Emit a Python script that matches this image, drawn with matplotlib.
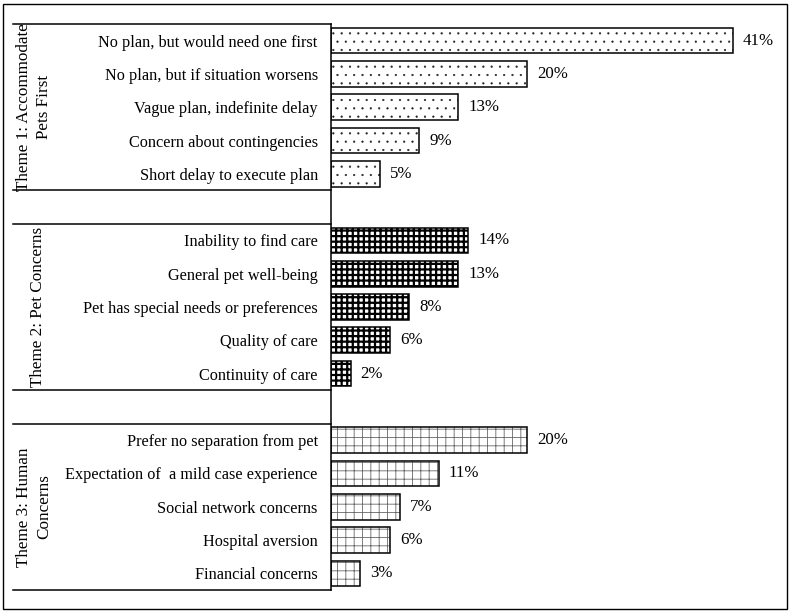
import matplotlib
matplotlib.use("Agg")
import matplotlib.pyplot as plt
from matplotlib.patches import Rectangle
import matplotlib.transforms as mtransforms

plt.rcParams['font.family'] = ['Liberation Serif', 'DejaVu Serif']

theme_names = ["Theme 1: Accommodate\nPets First", "Theme 2: Pet Concerns", "Theme 3: Human\nConcerns"]
theme1_labels = ["No plan, but would need one first", "No plan, but if situation worsens",
                 "Vague plan, indefinite delay", "Concern about contingencies",
                 "Short delay to execute plan"]
theme1_values = [41, 20, 13, 9, 5]
theme2_labels = ["Inability to find care", "General pet well-being",
                 "Pet has special needs or preferences", "Quality of care", "Continuity of care"]
theme2_values = [14, 13, 8, 6, 2]
theme3_labels = ["Prefer no separation from pet", "Expectation of  a mild case experience",
                 "Social network concerns", "Hospital aversion", "Financial concerns"]
theme3_values = [20, 11, 7, 6, 3]

W, H = 795, 613
fig = plt.figure(figsize=(W / 100, H / 100), dpi=100)

ax_left, ax_right, ax_top, ax_bottom = 331, 780, 24, 590
ax = fig.add_axes([ax_left / W, 1 - ax_bottom / H, (ax_right - ax_left) / W, (ax_bottom - ax_top) / H])

fs_cat = 11.7
fs_val = 12.2
fs_theme = 12.3
groups = [
    (theme1_labels, theme1_values, dict(hatch='..', hc='#222222', hlw=0.35)),
    (theme2_labels, theme2_values, dict(hatch='+++', hc='black', hlw=1.6)),
    (theme3_labels, theme3_values, dict(hatch='++', hc='#666666', hlw=0.6)),
]
theme_x = [34, 38, 34]

pos = 0
ticks, ticklabels = [], []
group_ranges = []
for labels, values, st in groups:
    ys = list(range(pos, pos + len(labels)))
    plt.rcParams['hatch.linewidth'] = st['hlw']
    b1 = ax.barh(ys, values, height=0.77, color='white', edgecolor=st['hc'],
                 hatch=st['hatch'], linewidth=0)
    for p in b1.patches:
        if hasattr(p, 'set_hatch_linewidth'):
            p.set_hatch_linewidth(st['hlw'])
    ax.barh(ys, values, height=0.77, fill=False, edgecolor='black', linewidth=1.1)
    for y, v in zip(ys, values):
        ax.annotate(f"{v}%", (v, y), xytext=(7.2, 0), textcoords='offset points',
                    va='center', ha='left', fontsize=fs_val)
    ticks += ys
    ticklabels += labels
    group_ranges.append((pos - 0.5, pos + len(labels) - 0.5))
    pos += len(labels) + 1

ax.set_ylim(16.5, -0.5)
ax.set_xlim(0, (ax_right - ax_left) / 9.8)
ax.set_yticks(ticks)
ax.set_yticklabels(ticklabels, fontsize=fs_cat)
ax.tick_params(axis='y', length=0, pad=9.5)
ax.set_xticks([])
for s in ['top', 'right', 'bottom']:
    ax.spines[s].set_visible(False)
ax.spines['left'].set_linewidth(1.1)

trans = mtransforms.blended_transform_factory(ax.transAxes, ax.transData)
x0 = (13 - ax_left) / (ax_right - ax_left)
for (lo, hi), name, tx in zip(group_ranges, theme_names, theme_x):
    for yy in (lo, hi):
        ax.plot([x0, 0], [yy, yy], transform=trans, color='black', lw=1.1, clip_on=False)
    xc = (tx - ax_left) / (ax_right - ax_left)
    ax.text(xc, (lo + hi) / 2, name, transform=trans, rotation=90, ha='center', va='center',
            fontsize=fs_theme, multialignment='center', linespacing=1.3)

fig.patches.append(Rectangle((3 / W, 4 / H), (787 - 3) / W, (609 - 4) / H, transform=fig.transFigure,
                             fill=False, edgecolor='black', linewidth=1.0))

fig.savefig("out.png", dpi=100)
